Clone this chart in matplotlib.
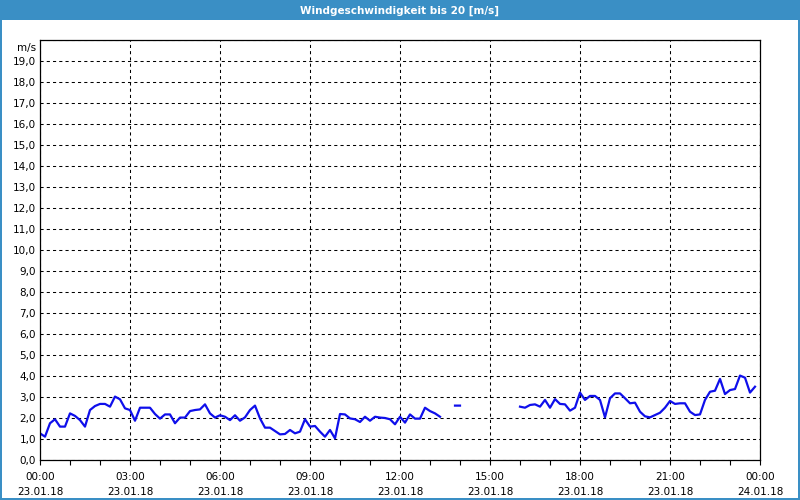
import matplotlib
matplotlib.use('Agg')
import matplotlib.pyplot as plt
import matplotlib.dates as mdates
from matplotlib.patches import Rectangle
from matplotlib.ticker import FuncFormatter, MultipleLocator
import numpy as np
import pandas as pd

BLEU_TITRE = '#3A8FC5'
BLEU_LIGNE = '#0F0FEB'

# 10-minute readings, 23.01.18 00:00 .. 23:50 (nan = no data)
wind_00_04 = [1.27, 1.11, 1.75, 1.94, 1.59, 1.59, 2.22, 2.10, 1.90, 1.59,
              2.38, 2.57, 2.67, 2.67, 2.54, 3.02, 2.89, 2.46, 2.38, 1.87,
              2.49, 2.49, 2.49, 2.19, 1.97]
wind_04_08 = [2.17, 2.17, 1.75, 2.02, 2.02, 2.33, 2.38, 2.41, 2.65, 2.22,
              2.02, 2.13, 2.06, 1.90, 2.13, 1.87, 2.03, 2.38, 2.59, 1.98,
              1.54, 1.54, 1.38, 1.22]
wind_08_12 = [1.24, 1.43, 1.27, 1.35, 1.94, 1.59, 1.62, 1.35, 1.11, 1.43,
              1.03, 2.19, 2.17, 1.98, 1.94, 1.81, 2.06, 1.87, 2.06, 2.02,
              2.00, 1.94, 1.70, 2.06]
wind_12_16 = [1.78, 2.17, 1.97, 1.97, 2.49, 2.33, 2.22, 2.06,
              np.nan, np.nan, 2.59, 2.59,
              np.nan, np.nan, np.nan, np.nan, np.nan, np.nan, np.nan, np.nan,
              np.nan, np.nan, np.nan]
wind_16_20 = [2.54, 2.49, 2.62, 2.65, 2.54, 2.86, 2.49, 2.90, 2.67, 2.65,
              2.35, 2.49, 3.21, 2.86, 3.05, 3.05, 2.86, 2.03, 2.94, 3.17,
              3.17, 2.94, 2.70, 2.73, 2.30]
wind_20_24 = [2.08, 2.03, 2.14, 2.25, 2.49, 2.81, 2.67, 2.70, 2.70, 2.30,
              2.14, 2.17, 2.86, 3.25, 3.30, 3.86, 3.14, 3.33, 3.38, 4.02,
              3.92, 3.21, 3.49]

vitesse = np.array(wind_00_04 + wind_04_08 + wind_08_12 + wind_12_16 + wind_16_20 + wind_20_24)
temps = pd.date_range('2018-01-23 00:00', periods=len(vitesse), freq='10min')

fig = plt.figure(figsize=(8, 5), dpi=100, facecolor='white')

# bandeau titre + cadre bleu
fig.patches.append(Rectangle((0, 0.96), 1, 0.04, transform=fig.transFigure,
                             facecolor=BLEU_TITRE, edgecolor='none', zorder=0))
for (x0, y0, w, h) in [(0, 0, 0.0025, 1), (0.9975, 0, 0.0025, 1), (0, 0, 1, 0.004)]:
    fig.patches.append(Rectangle((x0, y0), w, h, transform=fig.transFigure,
                                 facecolor=BLEU_TITRE, edgecolor='none', zorder=0))
fig.text(0.5, 0.979, 'Windgeschwindigkeit bis 20 [m/s]', ha='center', va='center',
         color='white', fontsize=7.5, fontweight='bold')

ax = fig.add_axes([0.05, 0.08, 0.90, 0.84])
ax.plot(temps, vitesse, color=BLEU_LIGNE, linewidth=1.6, solid_joinstyle='round')

ax.set_xlim(pd.Timestamp('2018-01-23 00:00'), pd.Timestamp('2018-01-24 00:00'))
ax.set_ylim(0, 20)

ax.xaxis.set_major_locator(mdates.HourLocator(byhour=range(0, 24, 3)))
ax.xaxis.set_minor_locator(mdates.HourLocator())
ax.xaxis.set_major_formatter(mdates.DateFormatter('%H:%M\n%d.%m.%y'))
ax.yaxis.set_major_locator(MultipleLocator(1))
ax.yaxis.set_major_formatter(FuncFormatter(lambda v, p: '' if v >= 20 else f'{v:.1f}'.replace('.', ',')))

ax.tick_params(axis='x', which='both', direction='out', length=3.5, width=0.8,
               labelsize=7.5, pad=5, colors='black')
ax.tick_params(axis='y', length=0, labelsize=7.5, pad=3)
for lab in ax.get_xticklabels():
    lab.set_linespacing(1.7)

ax.grid(True, which='major', color='black', linewidth=0.75, linestyle=(0, (3, 3)))
for s in ax.spines.values():
    s.set_color('black')
    s.set_linewidth(0.9)

ax.annotate('m/s', xy=(0, 20), xycoords=('axes fraction', 'data'), xytext=(-3, -2),
            textcoords='offset points', ha='right', va='top', fontsize=7.5)

fig.savefig('out.png', dpi=100, facecolor='white')
